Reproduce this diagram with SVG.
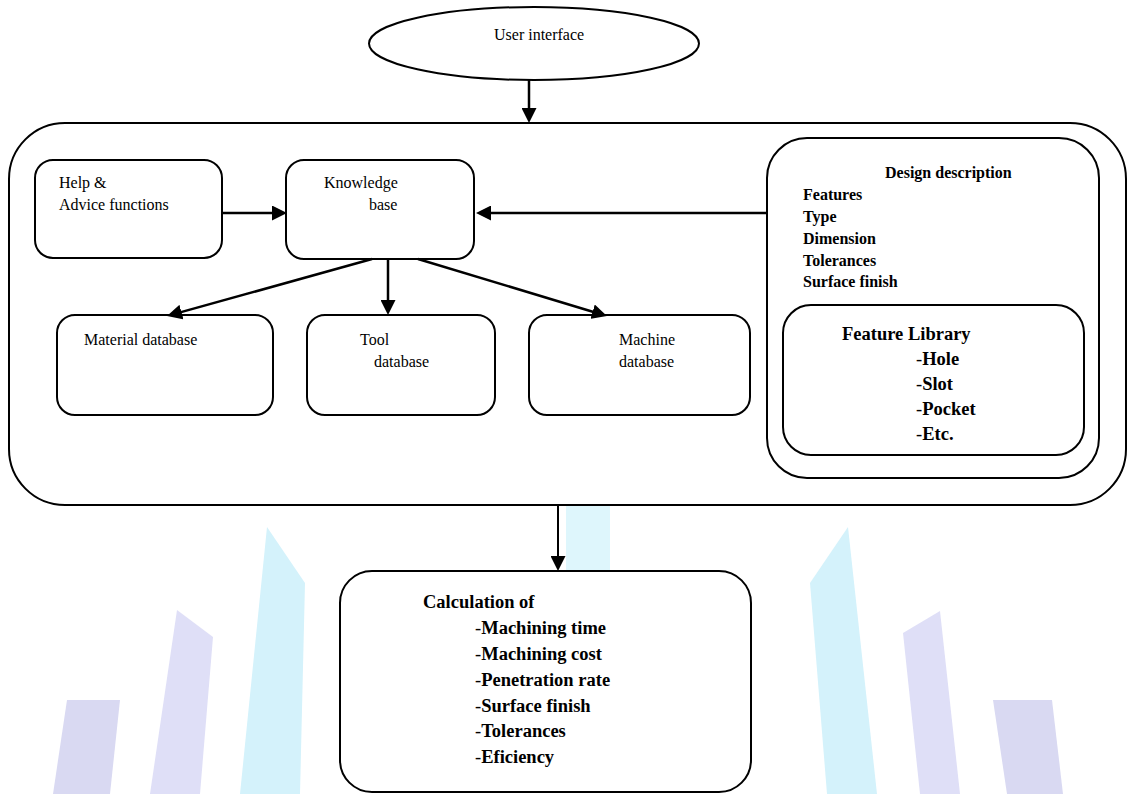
<svg xmlns="http://www.w3.org/2000/svg" width="1129" height="794" viewBox="0 0 1129 794">
<style>
.box{fill:#fff;stroke:#000;stroke-width:2}
.t{font-family:"Liberation Serif","Times New Roman",serif;font-size:16px;fill:#000}
.b{font-weight:bold}
.l{font-size:18.5px;font-weight:bold}
.n{font-weight:normal}
.c{fill:none;stroke:#000;stroke-width:2.5}
.wb{fill:#d4f2fb}
.wp{fill:#dfdff7}
.wq{fill:#d9d9f2}
</style>
<defs>
<marker id="ah" viewBox="0 0 15 15" markerWidth="15" markerHeight="15" refX="7" refY="7.5" orient="auto" markerUnits="userSpaceOnUse">
<path d="M0,0 L15,7.5 L0,15 z" fill="#000"/>
</marker>
</defs>
<rect width="1129" height="794" fill="#fff"/>
<g id="watermark">
<polygon class="wq" points="67,700 120,700 110,794 53,794"/>
<polygon class="wp" points="177,610 213,637 200,794 150,794"/>
<polygon class="wb" points="267,527 305,583 300,794 240,794"/>
<rect x="566" y="506" width="44" height="65" fill="#def6fc"/>
<polygon class="wb" points="848,527 877,794 827,794 810,583"/>
<polygon class="wp" points="940,611 960,794 920,794 903,633"/>
<polygon class="wq" points="993,700 1052,700 1063,794 1007,794"/>
</g>
<g id="user-interface">
<ellipse class="box" cx="534" cy="43.5" rx="165" ry="36.5"/>
<text class="t" x="494" y="40">User interface</text>
</g>
<g id="system">
<rect class="box" x="9" y="123" width="1117" height="382" rx="56" ry="56"/>
</g>
<g id="help">
<rect class="box" x="35" y="160" width="187" height="98" rx="18" ry="18"/>
<text class="t" x="59" y="188">Help &amp;</text>
<text class="t" x="59" y="210">Advice functions</text>
</g>
<g id="knowledge">
<rect class="box" x="286" y="160" width="188" height="99" rx="18" ry="18"/>
<text class="t" x="324" y="188">Knowledge</text>
<text class="t" x="369" y="210">base</text>
</g>
<g id="material">
<rect class="box" x="57" y="315" width="216" height="100" rx="18" ry="18"/>
<text class="t" x="84" y="345">Material database</text>
</g>
<g id="tool">
<rect class="box" x="307" y="315" width="188" height="100" rx="18" ry="18"/>
<text class="t" x="360" y="345">Tool</text>
<text class="t" x="374" y="367">database</text>
</g>
<g id="machine">
<rect class="box" x="529" y="315" width="221" height="100" rx="18" ry="18"/>
<text class="t" x="619" y="345">Machine</text>
<text class="t" x="619" y="367">database</text>
</g>
<g id="design">
<rect class="box" x="767" y="138" width="332" height="340" rx="40" ry="40"/>
<text class="t b" x="885" y="178">Design description</text>
<text class="t b" x="803" y="200">Features</text>
<text class="t b" x="803" y="222">Type</text>
<text class="t b" x="803" y="243.5">Dimension</text>
<text class="t b" x="803" y="265.5">Tolerances</text>
<text class="t b" x="803" y="287">Surface finish</text>
</g>
<g id="feature-library">
<rect class="box" x="783" y="305" width="301" height="150" rx="28" ry="28"/>
<text class="t l" x="842" y="340">Feature Library</text>
<text class="t l" x="916" y="365"><tspan class="n">-</tspan>Hole</text>
<text class="t l" x="916" y="389.5"><tspan class="n">-</tspan>Slot</text>
<text class="t l" x="916" y="415"><tspan class="n">-</tspan>Pocket</text>
<text class="t l" x="916" y="440"><tspan class="n">-</tspan>Etc.</text>
</g>
<g id="calculation">
<rect class="box" x="340" y="571" width="411" height="221" rx="32" ry="32"/>
<text class="t l" x="423" y="608">Calculation of</text>
<text class="t l" x="475" y="634"><tspan class="n">-</tspan>Machining time</text>
<text class="t l" x="475" y="660"><tspan class="n">-</tspan>Machining cost</text>
<text class="t l" x="475" y="686"><tspan class="n">-</tspan>Penetration rate</text>
<text class="t l" x="475" y="711.5"><tspan class="n">-</tspan>Surface finish</text>
<text class="t l" x="475" y="737"><tspan class="n">-</tspan>Tolerances</text>
<text class="t l" x="475" y="763"><tspan class="n">-</tspan>Eficiency</text>
</g>
<g id="connectors">
<line class="c" x1="529" y1="80" x2="529" y2="115" marker-end="url(#ah)"/>
<line class="c" x1="222" y1="213" x2="279" y2="213" marker-end="url(#ah)"/>
<line class="c" x1="767" y1="213" x2="484" y2="213" marker-end="url(#ah)"/>
<line class="c" x1="372" y1="259" x2="174.7" y2="313.9" marker-end="url(#ah)"/>
<line class="c" x1="388" y1="259" x2="388" y2="307" marker-end="url(#ah)"/>
<line class="c" x1="418" y1="259" x2="599.3" y2="313.7" marker-end="url(#ah)"/>
<line class="c" style="stroke-width:2" x1="558" y1="505" x2="558" y2="563" marker-end="url(#ah)"/>
</g>
</svg>
